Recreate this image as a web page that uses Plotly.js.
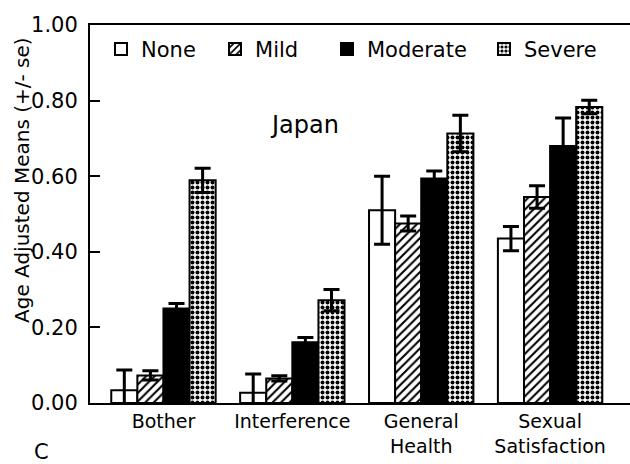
<!DOCTYPE html>
<html>
<head>
<meta charset="utf-8">
<script src="https://cdn.plot.ly/plotly-3.0.1.min.js"></script>
<style>html,body{margin:0;padding:0;background:#fff;}#chart{width:630px;height:464px;}</style>
</head>
<body>
<div id="chart"></div>
<script>
const categories = ["Bother", "Interference", "General<br>Health", "Sexual<br>Satisfaction"];
const seriesNames = ["None", "Mild", "Moderate", "Severe"];
const noneMeans = [0.034, 0.027, 0.51, 0.435];
const noneSe = [0.053, 0.05, 0.09, 0.032];
const mildMeans = [0.073, 0.065, 0.475, 0.545];
const mildSe = [0.012, 0.007, 0.02, 0.03];
const moderateMeans = [0.25, 0.161, 0.594, 0.68];
const moderateSe = [0.013, 0.012, 0.02, 0.074];
const severeMeans = [0.589, 0.272, 0.713, 0.783];
const severeSe = [0.032, 0.028, 0.048, 0.018];
const yTickVals = [0, 0.2, 0.4, 0.6, 0.8, 1.0];

const FONT = "DejaVu Sans, Liberation Sans, Arial, sans-serif";

function barTrace(name, y, se, pattern, color, legendId) {
  const marker = { color: color, line: { color: "#000", width: 2 } };
  if (pattern) marker.pattern = pattern;
  return {
    type: "bar", name: name, x: categories, y: y, legend: legendId,
    marker: marker,
    error_y: { type: "data", array: se, visible: true, color: "#000", thickness: 3, width: 8 },
    hoverinfo: "skip"
  };
}

const data = [
  barTrace(seriesNames[0], noneMeans, noneSe, null, "#fff", "legend"),
  barTrace(seriesNames[1], mildMeans, mildSe, { shape: "/", fgcolor: "#000", bgcolor: "#fff", size: 6, solidity: 0.35 }, "#fff", "legend2"),
  barTrace(seriesNames[2], moderateMeans, moderateSe, null, "#000", "legend3"),
  barTrace(seriesNames[3], severeMeans, severeSe, { shape: ".", fgcolor: "#000", bgcolor: "#fff", size: 5, solidity: 0.5 }, "#fff", "legend4")
];

function legendAt(x) {
  return {
    orientation: "h", x: x, y: 0.99, xanchor: "left", yanchor: "top",
    font: { family: FONT, size: 21, color: "#000" },
    bgcolor: "rgba(0,0,0,0)", itemwidth: 30
  };
}

const layout = {
  width: 630, height: 464,
  margin: { l: 90, r: 0, t: 25, b: 61 },
  paper_bgcolor: "#fff", plot_bgcolor: "#fff",
  font: { family: FONT, color: "#000", size: 21 },
  barmode: "group", bargap: 0.19, bargroupgap: 0,
  showlegend: true,
  legend: legendAt(0.0204),
  legend2: legendAt(0.2315),
  legend3: legendAt(0.4389),
  legend4: legendAt(0.7296),
  xaxis: {
    type: "category", range: [-0.57, 3.62],
    showline: true, linecolor: "#000", linewidth: 2, mirror: true,
    ticks: "", showgrid: false, zeroline: false,
    tickfont: { family: FONT, size: 19, color: "#000" },
    ticklabelstandoff: 0
  },
  yaxis: {
    range: [0, 1.0], tickvals: yTickVals, tickformat: ".2f",
    showline: true, linecolor: "#000", linewidth: 2,
    ticks: "inside", ticklen: 10, tickwidth: 2, tickcolor: "#000",
    showgrid: false, zeroline: false,
    tickfont: { family: FONT, size: 21, color: "#000" },
    ticklabelstandoff: 6
  },
  annotations: [
    { text: "Japan", xref: "paper", yref: "paper", x: 0.398, y: 0.735, xanchor: "center", yanchor: "middle",
      showarrow: false, font: { family: FONT, size: 24, color: "#000" } },
    { text: "Age Adjusted Means (+/- se)", xref: "paper", yref: "paper", x: -0.126, y: 0.59,
      xanchor: "center", yanchor: "middle",
      showarrow: false, textangle: -90, font: { family: FONT, size: 20, color: "#000" } },
    { text: "C", xref: "paper", yref: "paper", x: -0.089, y: -0.13, xanchor: "center", yanchor: "middle",
      showarrow: false, font: { family: FONT, size: 21, color: "#000" } }
  ]
};

Plotly.newPlot("chart", data, layout, { staticPlot: true, displayModeBar: false });
</script>
</body>
</html>
